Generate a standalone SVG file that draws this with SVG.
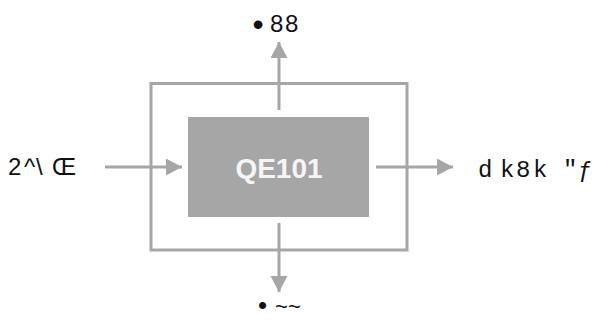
<svg xmlns="http://www.w3.org/2000/svg" width="600" height="320" viewBox="0 0 600 320">
  <style>
    .conn { stroke: #a6a6a6; stroke-width: 3; fill: none; }
    .lbl { fill: #111111; }
    .mono { font-family: "Liberation Mono", "DejaVu Sans Mono", monospace; }
    .sans { font-family: "Liberation Sans", Arial, sans-serif; }
  </style>
  <defs>
    <marker id="arrow" markerUnits="userSpaceOnUse" markerWidth="16" markerHeight="17" refX="16" refY="8.5" orient="auto">
      <path d="M0,0 L16,8.5 L0,17 Z" fill="#a6a6a6"/>
    </marker>
  </defs>
  <rect width="600" height="320" fill="#ffffff"/>
  <g id="boundary">
    <rect x="151" y="83.5" width="256" height="166.5" fill="none" stroke="#a6a6a6" stroke-width="3"/>
  </g>
  <g id="connectors">
    <path class="conn" d="M105,167 L182,167" marker-end="url(#arrow)"/>
    <path class="conn" d="M376,167 L453,167" marker-end="url(#arrow)"/>
    <path class="conn" d="M279,110 L279,42" marker-end="url(#arrow)"/>
    <path class="conn" d="M279,223 L279,292" marker-end="url(#arrow)"/>
  </g>
  <g id="QE101">
    <rect x="188" y="117" width="181" height="100" fill="#a6a6a6"/>
    <text x="279" y="178" text-anchor="middle" class="sans" font-weight="bold" font-size="28" fill="#f5f5f5">QE101</text>
  </g>
  <g id="input">
    <text class="lbl sans" font-size="24" y="175" x="8 24 36 52">2^\Œ</text>
  </g>
  <g id="output">
    <text class="lbl mono" font-size="24" y="177" x="478 500 516 533 563 578">dk8k"ƒ</text>
  </g>
  <g id="control">
    <text class="lbl sans" font-size="24" y="32"><tspan x="252.5" y="35" font-size="32">•</tspan><tspan x="270 285" y="32">88</tspan></text>
  </g>
  <g id="mechanism">
    <text class="lbl sans" font-size="22" y="314"><tspan x="258" font-size="26">•</tspan><tspan x="275 288">~~</tspan></text>
  </g>
</svg>
